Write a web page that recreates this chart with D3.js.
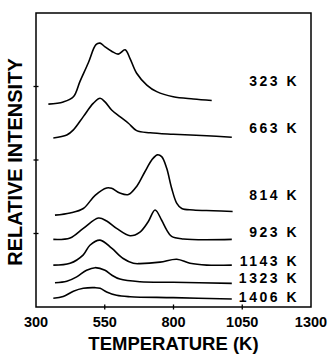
<!DOCTYPE html>
<html>
<head>
<meta charset="utf-8">
<script src="https://cdn.jsdelivr.net/npm/d3@7"></script>
<style>
  body { margin: 0; background: #fff; }
  svg { display: block; font-family: "Liberation Sans", Arial, sans-serif; }
  .curve { fill: none; stroke: #000; stroke-width: 1.6; }
  .frame { fill: none; stroke: #000; stroke-width: 1.5; }
  .tick-label { font-size: 14.5px; font-weight: bold; }
  .series-label { font-size: 14px; font-weight: bold; letter-spacing: 2.5px; }
  .axis-title { font-weight: bold; }
</style>
</head>
<body>
<div id="chart"></div>
<script>
// x ticks (temperature, K)
const xTicks = [300, 550, 800, 1050, 1300];
const yTicks = [0, 1, 2, 3, 4];

// annealing temperatures for each spectrum
const labels = ["323 K", "663 K", "814 K", "923 K", "1143 K", "1323 K", "1406 K"];
// where the label sits (relative intensity units)
const labelLevels = [3.07, 2.44, 1.53, 1.02, 0.62, 0.39, 0.13];

// each curve: [temperature, relative intensity]
const c323 = [[345, 2.76], [399, 2.79], [436, 2.86], [460, 3.07], [490, 3.32], [518, 3.57], [533, 3.59],
  [551, 3.54], [575, 3.48], [599, 3.44], [624, 3.50], [642, 3.38], [666, 3.18], [703, 3.02],
  [739, 2.93], [799, 2.86], [872, 2.83], [939, 2.81]];
const c663 = [[363, 2.30], [412, 2.34], [436, 2.41], [472, 2.59], [508, 2.77], [533, 2.84], [551, 2.79],
  [575, 2.68], [605, 2.59], [636, 2.50], [666, 2.40], [715, 2.37], [799, 2.35], [921, 2.33], [1012, 2.31]];
const c814 = [[369, 1.25], [424, 1.28], [472, 1.34], [515, 1.52], [557, 1.62], [575, 1.615], [605, 1.55],
  [636, 1.53], [666, 1.64], [696, 1.84], [721, 2.00], [741, 2.07], [757, 2.045], [775, 1.89],
  [793, 1.62], [812, 1.41], [830, 1.34], [872, 1.32], [945, 1.31], [1015, 1.30]];
const c923 = [[363, 0.92], [424, 0.94], [472, 1.07], [527, 1.21], [557, 1.17], [593, 1.07], [642, 0.97],
  [678, 1.02], [708, 1.16], [733, 1.32], [757, 1.18], [775, 1.05], [793, 0.96], [836, 0.925], [1012, 0.92]];
const c1143 = [[363, 0.57], [424, 0.595], [472, 0.71], [496, 0.84], [533, 0.91], [575, 0.80], [617, 0.66],
  [654, 0.595], [678, 0.59], [751, 0.61], [812, 0.65], [860, 0.595], [921, 0.57], [1012, 0.57]];
const c1323 = [[369, 0.33], [412, 0.35], [448, 0.41], [484, 0.50], [515, 0.535], [551, 0.50], [575, 0.435],
  [605, 0.38], [678, 0.344], [799, 0.336], [1012, 0.322]];
const c1406 = [[363, 0.12], [399, 0.143], [436, 0.214], [472, 0.254], [515, 0.263], [533, 0.254],
  [557, 0.204], [593, 0.159], [642, 0.14], [799, 0.127], [1012, 0.109]];

const curves = [c323, c663, c814, c923, c1143, c1323, c1406];

const width = 331, height = 357;
const margin = { top: 13, right: 20, bottom: 50, left: 36 };
const innerWidth = width - margin.left - margin.right;
const innerHeight = height - margin.top - margin.bottom;

const xScale = d3.scaleLinear().domain([300, 1300]).range([0, innerWidth]);
const yScale = d3.scaleLinear().domain([0, 4]).range([innerHeight, 0]);

const svg = d3.select("#chart").append("svg")
  .attr("width", width)
  .attr("height", height);

const g = svg.append("g").attr("transform", `translate(${margin.left},${margin.top})`);

//frame
g.append("rect")
  .attr("class", "frame")
  .attr("width", innerWidth)
  .attr("height", innerHeight);

//ticks: small crosses on the axis lines
g.selectAll("line.xtick")
  .data(xTicks.slice(1, -1))
  .join("line")
  .attr("class", "xtick")
  .attr("x1", (d) => xScale(d)).attr("x2", (d) => xScale(d))
  .attr("y1", innerHeight - 2.5).attr("y2", innerHeight + 2.5)
  .attr("stroke", "#000").attr("stroke-width", 1.3);

g.selectAll("line.ytick")
  .data(yTicks.slice(1, -1))
  .join("line")
  .attr("class", "ytick")
  .attr("x1", -2.5).attr("x2", 2.5)
  .attr("y1", (d) => yScale(d)).attr("y2", (d) => yScale(d))
  .attr("stroke", "#000").attr("stroke-width", 1.3);

g.selectAll("text.tick-label")
  .data(xTicks)
  .join("text")
  .attr("class", "tick-label")
  .attr("x", (d) => xScale(d))
  .attr("y", innerHeight + 20)
  .attr("text-anchor", "middle")
  .text((d) => d);

//curves
const line = d3.line()
  .x((d) => xScale(d[0]))
  .y((d) => yScale(d[1]))
  .curve(d3.curveCatmullRom.alpha(0.5));

g.selectAll("path.curve")
  .data(curves)
  .join("path")
  .attr("class", "curve")
  .attr("d", line);

//series labels
g.selectAll("text.series-label")
  .data(labels)
  .join("text")
  .attr("class", "series-label")
  .attr("x", innerWidth - 12)
  .attr("y", (d, i) => yScale(labelLevels[i]) + 5)
  .attr("text-anchor", "end")
  .text((d) => d);

//axis titles
svg.append("text")
  .attr("class", "axis-title")
  .attr("x", margin.left + xScale(800))
  .attr("y", 350)
  .attr("text-anchor", "middle")
  .style("font-size", "18.5px")
  .text("TEMPERATURE (K)");

svg.append("text")
  .attr("class", "axis-title")
  .attr("transform", `translate(22,${162}) rotate(-90)`)
  .attr("text-anchor", "middle")
  .style("font-size", "20px")
  .text("RELATIVE INTENSITY");
</script>
</body>
</html>
